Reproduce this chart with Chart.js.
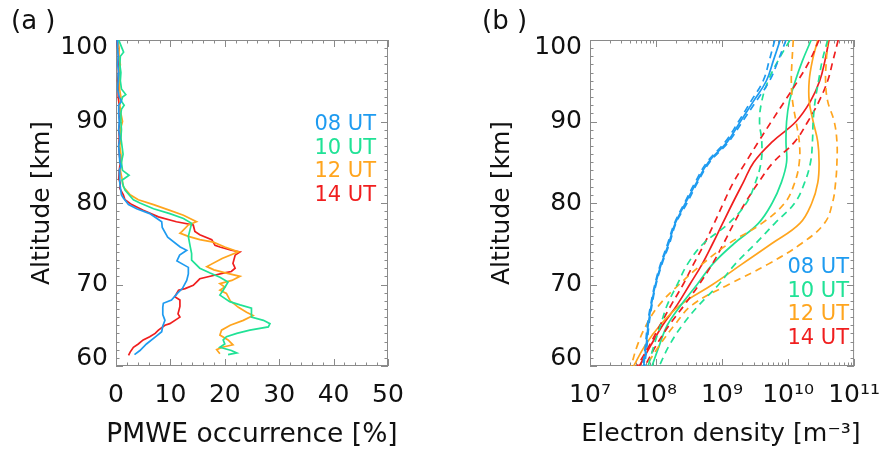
<!DOCTYPE html>
<html><head><meta charset="utf-8">
<script src="https://cdn.jsdelivr.net/npm/chart.js@4.4.1/dist/chart.umd.min.js"></script>
<style>
html,body{margin:0;padding:0;background:#fff;}
#wrap{position:relative;width:894px;height:457px;overflow:hidden;font-family:"DejaVu Sans",sans-serif;}
canvas{position:absolute;top:0;}
.plab{position:absolute;font-size:26px;line-height:26px;color:#111;white-space:pre;}
.leg{position:absolute;font-size:21px;line-height:23.5px;text-align:right;white-space:pre;}
.xt{position:absolute;width:400px;top:418px;font-size:26.5px;line-height:30px;text-align:center;color:#111;white-space:pre;}
</style></head>
<body><div id="wrap">
<canvas id="ca" width="447" height="457" style="left:0"></canvas>
<canvas id="cb" width="447" height="457" style="left:447px"></canvas>
<div class="plab" style="left:11px;top:7px">(a )</div>
<div class="plab" style="left:482px;top:7px">(b )</div>
<div class="xt" id="xtA" style="left:52px"></div>
<div class="xt" id="xtB" style="left:521px;font-size:25.2px"></div>
<div class="leg" id="legA" style="left:280px;width:96px;top:112px"></div>
<div class="leg" id="legB" style="left:753px;width:96px;top:255px"></div>
</div>
<script>
// ---------- series names / colours ----------
const seriesNames = ['08 UT', '10 UT', '12 UT', '14 UT'];
const seriesColors = ['#1e9bf0', '#20e296', '#ffa51e', '#f01e1e'];

// ---------- axis titles / tick labels ----------
const xTitleA = 'PMWE occurrence [%]';
const xTitleB = 'Electron density [m⁻³]';
const yTitle = 'Altitude [km]';
const xTicksA = [0, 10, 20, 30, 40, 50];
const yTicks = [60, 70, 80, 90, 100];
const xTicksB = [1e7, 1e8, 1e9, 1e10, 1e11];

// ---------- panel (a): PMWE occurrence [%] vs altitude [km] ----------
const altA08 = [100,99,98,97,96,95,94,93,92.5,92,91,90,89,88,87,86,85,84.5,84,83,82.4,81.0,80.6,79.8,79.3,78.7,77.7,77.0,75.8,74.6,74.2,73.6,72.9,72.1,71.3,70.5,69.5,69.0,68.1,67.7,67.2,66.3,65.6,64.9,64.2,63.6,62.7,61.9,61.4];
const pctA08 = [0.2,0.3,0.4,0.3,0.5,0.4,0.3,0.6,1.0,0.5,0.5,0.6,0.5,0.7,0.5,0.6,0.7,0.9,0.6,0.7,0.7,1.0,1.35,2.3,3.8,6.2,8.4,8.5,9.5,11.8,13.0,11.7,11.2,13.3,13.3,13.0,12.2,11.4,10.2,8.7,8.6,8.6,9.0,8.6,8.4,7.3,5.6,4.4,3.4];

const altA10 = [100,99.5,99,98.5,98,97,96,95,94,93.3,93,92.5,92,91.5,91,90,89,88,87,86,85,84,83.4,82.8,82.2,81.6,80.4,80.0,79.3,78.7,78.1,77.5,76.7,75.9,74.8,73.8,73.0,72.0,71.4,70.9,70.3,69.3,68.7,67.9,67.5,67.1,66.0,65.6,65.2,64.8,64.4,64.0,63.6,63.2,62.7,62.3,61.9,61.6,61.4];
const pctA10 = [0.5,0.8,1.1,1.4,0.8,0.7,0.9,0.8,1.0,1.8,1.2,1.0,1.5,1.0,0.9,0.9,1.0,0.9,1.1,1.3,1.0,1.2,2.4,1.1,1.3,1.65,3.2,4.4,6.9,9.9,12.4,13.9,13.6,13.3,13.6,13.9,13.9,15.4,17.3,19.1,20.6,19.7,19.1,20.9,22.8,24.9,24.9,27.1,28.3,28.0,24.6,22.2,20.3,19.7,20.0,19.1,21.2,22.2,20.6];

const altA12 = [100,99,98,97,96,95,94,93,92,91,90,89,88,87,86,85,84,83,82.0,81.0,80.4,79.8,79.1,78.5,77.7,77.3,76.5,76.3,75.9,75.5,75.2,74.6,74.0,73.2,72.2,71.8,71.4,71.0,70.5,70.1,69.7,69.3,68.9,68.0,67.2,66.6,66.2,65.6,65.0,64.4,63.8,63.2,62.6,62.3,62.0,61.5];
const pctA12 = [0.3,0.6,0.5,0.8,0.6,0.7,0.6,0.9,0.7,0.9,1.2,0.8,0.9,0.7,0.9,1.0,0.8,1.1,1.35,2.6,4.1,6.9,9.9,12.4,14.8,13.3,12.1,11.75,13.3,15.4,17.9,20.0,22.5,19.5,16.7,18.0,20.3,22.8,21.3,19.1,20.0,19.1,20.3,21.0,22.5,24.0,25.2,23.4,21.0,19.4,19.1,20.6,21.5,19.5,18.5,19.1];

const altA14 = [100,99,98,97,96,95,94,93,92,91,90,89,88,87,86,85,84,83,82.4,81.8,81.0,80.4,79.8,79.1,78.3,77.7,77.3,76.5,76.1,75.5,74.8,74.6,74.2,74.0,73.6,72.6,72.0,71.6,71.4,71.1,70.7,70.3,69.9,69.5,69.3,68.5,68.1,67.3,66.4,66.0,65.2,65.0,64.4,64.0,63.6,63.2,62.7,62.3,61.7,61.3];
const pctA14 = [0.1,0.3,0.5,0.4,0.5,0.3,0.5,0.4,0.6,0.5,0.7,0.5,0.6,0.5,0.6,0.8,0.6,0.5,0.8,0.7,1.35,1.65,2.9,5.0,7.8,11.1,14.2,14.5,15.4,17.6,18.2,19.1,21.2,22.8,21.9,21.5,21.9,21.2,19.7,17.9,15.4,14.8,14.2,12.7,11.5,10.8,11.75,11.75,11.4,11.75,9.9,9.0,7.8,7.2,6.2,5.0,4.1,3.2,2.6,2.3];

// ---------- panel (b): electron density [m^-3] (mean, lower, upper) ----------
const altB = [100,97.5,95,92.5,90,87.5,85,82.5,80,77.5,75,72.5,70,67.5,65,62.5,60];

const ne08   = [7.6e9,6.0e9,4.7e9,3.0e9,1.9e9,1.2e9,6.2e8,4.1e8,2.8e8,1.95e8,1.55e8,1.2e8,9.8e7,8.5e7,7.6e7,7.1e7,6.5e7];
const ne08lo = [6.3e9,5.2e9,4.2e9,2.75e9,1.78e9,1.12e9,5.9e8,3.9e8,2.7e8,1.9e8,1.5e8,1.17e8,9.6e7,8.3e7,7.4e7,6.9e7,6.3e7];
const ne08hi = [9.3e9,7.1e9,5.25e9,3.3e9,2.04e9,1.26e9,6.5e8,4.25e8,2.95e8,2.0e8,1.6e8,1.23e8,1.0e8,8.7e7,7.8e7,7.3e7,6.7e7];

const ne10   = [2.24e10,1.66e10,1.29e10,1.05e10,9.5e9,9.3e9,9.5e9,7.9e9,5.75e9,3.55e9,1.51e9,7.2e8,4.2e8,2.4e8,1.48e8,1.12e8,8.7e7];
const ne10lo = [1.07e10,7.1e9,5.0e9,4.0e9,3.7e9,4.0e9,3.9e9,3.2e9,2.34e9,1.26e9,5.2e8,3.0e8,2.1e8,1.48e8,1.17e8,9.3e7,7.6e7];
const ne10hi = [3.98e10,3.3e10,2.9e10,2.57e10,2.4e10,2.34e10,2.19e10,1.78e10,1.26e10,6.3e9,3.2e9,1.58e9,8.9e8,4.5e8,2.5e8,1.58e8,1.12e8];

const ne12   = [2.82e10,2.34e10,2.09e10,2.09e10,2.4e10,2.82e10,2.95e10,2.82e10,2.29e10,1.51e10,5.6e9,2.0e9,7.2e8,2.35e8,1.15e8,6.8e7,4.6e7];
const ne12lo = [1.2e10,1.15e10,1.12e10,1.17e10,1.32e10,1.48e10,1.48e10,1.26e10,8.9e9,4.0e9,1.26e9,5.0e8,2.24e8,1.12e8,7.1e7,5.2e7,4.2e7];
const ne12hi = [3.98e10,3.8e10,3.7e10,3.98e10,5.0e10,5.5e10,5.5e10,5.25e10,4.7e10,3.55e10,1.58e10,5.0e9,1.26e9,3.55e8,1.9e8,1.12e8,7.1e7];

const ne14   = [4.17e10,3.63e10,3.02e10,2.19e10,1.32e10,5.75e9,3.02e9,2.09e9,1.45e9,1.02e9,7.2e8,5.0e8,3.24e8,2.09e8,1.26e8,8.3e7,5.6e7];
const ne14lo = [2.95e10,2.14e10,1.41e10,8.9e9,5.6e9,3.55e9,2.29e9,1.48e9,1.05e9,7.6e8,5.4e8,3.7e8,2.57e8,1.7e8,1.15e8,7.9e7,5.2e7];
const ne14hi = [5.75e10,4.8e10,3.98e10,2.95e10,2.0e10,1.26e10,6.0e9,3.55e9,2.24e9,1.51e9,1.05e9,7.1e8,4.5e8,2.7e8,1.58e8,1.0e8,6.8e7];

// ---------- helpers ----------
const FAM = '"DejaVu Sans", sans-serif';
const pts = (xs, ys) => xs.map((x, i) => ({x: x, y: ys[i]}));
const sup = {'0':'⁰','1':'¹','2':'²','3':'³','4':'⁴','5':'⁵','6':'⁶','7':'⁷','8':'⁸','9':'⁹'};
const powLabel = v => '10' + String(Math.round(Math.log10(v))).split('').map(c => sup[c]).join('');
const yLabel = v => v === 100 ? ['', '100'] : (v === 60 ? ['60', ''] : String(v));

function framePlugin(minorX, minorY) {
  return {
    id: 'frame',
    beforeDatasetsDraw(chart) {
      const {ctx, chartArea: {left, right, top, bottom}} = chart;
      const xs = chart.scales.x, ys = chart.scales.y;
      ctx.save();
      ctx.strokeStyle = '#8a8a8a';
      ctx.lineWidth = 1;
      ctx.strokeRect(left + 0.5, top + 0.5, right - left - 1, bottom - top - 1);
      ctx.beginPath();
      const tickX = (v, len) => {
        const p = Math.round(xs.getPixelForValue(v)) + 0.5;
        ctx.moveTo(p, bottom); ctx.lineTo(p, bottom - len);
        ctx.moveTo(p, top); ctx.lineTo(p, top + len);
      };
      const tickY = (v, len) => {
        const p = Math.round(ys.getPixelForValue(v)) + 0.5;
        ctx.moveTo(left, p); ctx.lineTo(left + len, p);
        ctx.moveTo(right, p); ctx.lineTo(right - len, p);
      };
      xs.ticks.forEach(t => tickX(t.value, 7));
      minorX.forEach(v => tickX(v, 3.5));
      ys.ticks.forEach(t => tickY(t.value, 7));
      minorY.forEach(v => tickY(v, 3.5));
      ctx.stroke();
      ctx.restore();
    }
  };
}

const minorY = [];
for (let a = 61; a < 100; a++) if (a % 10) minorY.push(a);
const minorXA = [];
for (let p = 2; p < 50; p += 2) if (p % 10) minorXA.push(p);
const minorXB = [];
for (let e = 7; e < 11; e++) for (let k = 2; k <= 9; k++) minorXB.push(k * Math.pow(10, e));

function yScale(width, titlePad) {
  return {
    type: 'linear', min: 60, max: 100, position: 'left',
    grid: {display: false, drawTicks: false}, border: {display: false},
    afterBuildTicks: s => { s.ticks = yTicks.map(v => ({value: v})); },
    afterFit: s => { s.width = width; },
    ticks: {padding: 8, color: '#111', autoSkip: false, font: {family: FAM, size: 25, lineHeight: 0.6}, callback: v => yLabel(v)},
    title: {display: true, text: yTitle, color: '#111', font: {family: FAM, size: 25}, padding: {top: titlePad, bottom: 0}}
  };
}

// ---------- panel (a) ----------
const dsA = [[pctA08, altA08], [pctA10, altA10], [pctA12, altA12], [pctA14, altA14]].map((s, i) => ({
  label: seriesNames[i], data: pts(s[0], s[1]), showLine: true,
  borderColor: seriesColors[i], borderWidth: 1.7, pointRadius: 0, tension: 0, fill: false
}));

new Chart(document.getElementById('ca'), {
  type: 'scatter',
  data: {datasets: dsA},
  options: {
    responsive: false, animation: false, devicePixelRatio: 1,
    layout: {padding: {top: 40, right: 59, left: 0, bottom: 0}},
    plugins: {legend: {display: false}, tooltip: {enabled: false}},
    scales: {
      x: {
        type: 'linear', min: 0, max: 50, position: 'bottom',
        grid: {display: false, drawTicks: false}, border: {display: false},
        afterBuildTicks: s => { s.ticks = xTicksA.map(v => ({value: v})); },
        afterFit: s => { s.height = 91; },
        ticks: {padding: 14, color: '#111', maxRotation: 0, autoSkip: false, font: {family: FAM, size: 25}},
        title: {display: false}
      },
      y: yScale(116, 27)
    }
  },
  plugins: [framePlugin(minorXA, minorY)]
});

// ---------- panel (b) ----------
const groupsB = [[ne08, ne08lo, ne08hi], [ne10, ne10lo, ne10hi], [ne12, ne12lo, ne12hi], [ne14, ne14lo, ne14hi]];
const dsB = [];
groupsB.forEach((g, i) => {
  [1, 2].forEach(j => dsB.push({
    label: seriesNames[i] + (j === 1 ? ' lower' : ' upper'), data: pts(g[j], altB), showLine: true,
    borderColor: seriesColors[i], borderWidth: 1.7, borderDash: [7, 5], pointRadius: 0, tension: 0.4, fill: false
  }));
});
groupsB.forEach((g, i) => dsB.push({
  label: seriesNames[i], data: pts(g[0], altB), showLine: true,
  borderColor: seriesColors[i], borderWidth: 1.7, pointRadius: 0, tension: 0.4, fill: false
}));

new Chart(document.getElementById('cb'), {
  type: 'scatter',
  data: {datasets: dsB},
  options: {
    responsive: false, animation: false, devicePixelRatio: 1,
    layout: {padding: {top: 40, right: 31, left: 0, bottom: 0}},
    plugins: {legend: {display: false}, tooltip: {enabled: false}},
    scales: {
      x: {
        type: 'logarithmic', min: 1e7, max: 1e11, position: 'bottom',
        grid: {display: false, drawTicks: false}, border: {display: false},
        afterBuildTicks: s => { s.ticks = xTicksB.map(v => ({value: v})); },
        afterFit: s => { s.height = 91; },
        ticks: {padding: 14, color: '#111', maxRotation: 0, autoSkip: false, font: {family: FAM, size: 25}, callback: v => powLabel(v)},
        title: {display: false}
      },
      y: yScale(143, 40)
    }
  },
  plugins: [framePlugin(minorXB, minorY)]
});

// ---------- x-axis titles and legends (real text) ----------
document.getElementById('xtA').textContent = xTitleA;
document.getElementById('xtB').textContent = xTitleB;
['legA', 'legB'].forEach(id => {
  document.getElementById(id).innerHTML = seriesNames.map((n, i) =>
    '<div style="color:' + seriesColors[i] + '">' + n + '</div>').join('');
});
</script>
</body></html>
